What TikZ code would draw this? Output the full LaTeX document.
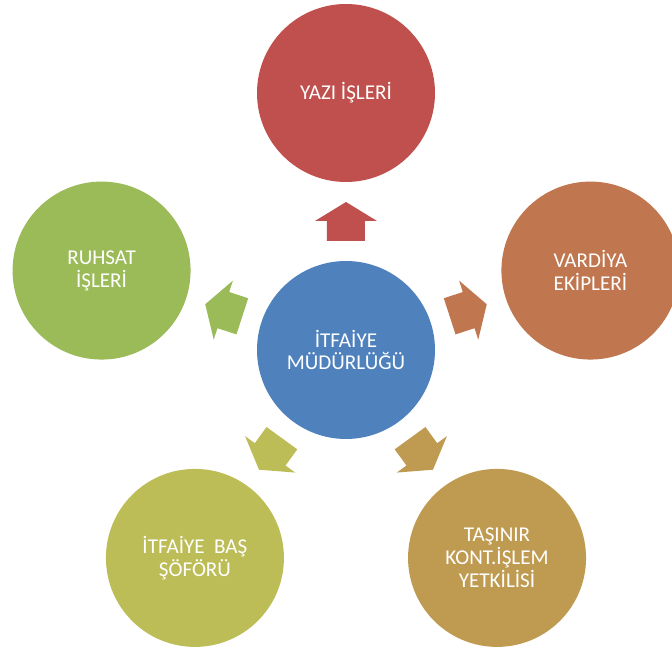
\documentclass[tikz,border=0pt]{standalone}
\usepackage{fontspec}
\setmainfont{Carlito}
\usepackage{tikz}
\usetikzlibrary{calc}
\definecolor{mavi}{HTML}{4F81BD}
\definecolor{kirmizi}{HTML}{C0504D}
\definecolor{turuncu}{HTML}{C0774F}
\definecolor{hardal}{HTML}{BF9B52}
\definecolor{sari}{HTML}{BDBD57}
\definecolor{yesil}{HTML}{9BBB59}
\tikzset{daire/.style={circle,minimum size=3.56cm,inner sep=0pt,text=white,align=center,font=\fontsize{12}{13}\selectfont}}

\begin{document}
\begin{tikzpicture}
\useasboundingbox (-6.92,-6.0) rectangle (6.52,7.0);
\node[daire,fill=mavi](merkez) at (0,0) {İTFAİYE\\MÜDÜRLÜĞÜ};
\node[daire,fill=kirmizi](yazi) at (90:5.14) {YAZI İŞLERİ};
\node[daire,fill=turuncu](vardiya) at (18:5.14) {VARDİYA\\EKİPLERİ};
\node[daire,fill=hardal](tasinir) at (-54:5.14) {TAŞINIR\\KONT.İŞLEM\\YETKİLİSİ};
\node[daire,fill=sari](sofor) at (-126:5.14) {İTFAİYE~~BAŞ\\ŞÖFÖRÜ};
\node[daire,fill=yesil](ruhsat) at (162:5.14) {RUHSAT\\İŞLERİ};
% block arrows from the centre to each circle
\foreach \n/\a/\c in {yazi/90/kirmizi,vardiya/18/turuncu,tasinir/-54/hardal,sofor/-126/sari,ruhsat/162/yesil}
{\begin{scope}[shift={($(merkez)!0.5!(\n)$)},rotate=\a]
\fill[\c](-0.39,-0.38)--(0.01,-0.38)--(0.01,-0.62)--(0.39,0)--(0.01,0.62)--(0.01,0.38)--(-0.39,0.38)--cycle;
\end{scope}}
\end{tikzpicture}
\end{document}
